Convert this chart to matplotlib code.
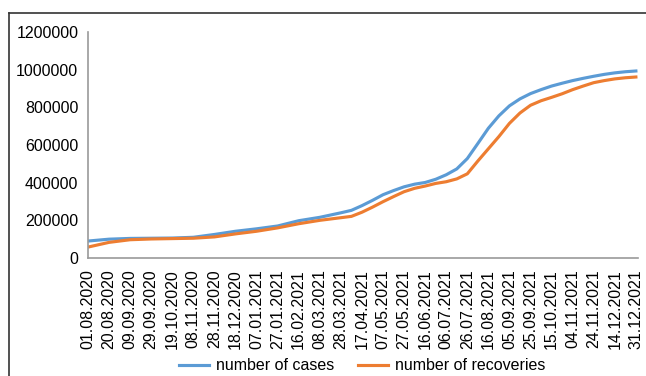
import numpy as np
import matplotlib.pyplot as plt
from matplotlib.lines import Line2D

# Datas mostradas no eixo x
datas = ["01.08.2020", "20.08.2020", "09.09.2020", "29.09.2020", "19.10.2020",
         "08.11.2020", "28.11.2020", "18.12.2020", "07.01.2021", "27.01.2021",
         "16.02.2021", "08.03.2021", "28.03.2021", "17.04.2021", "07.05.2021",
         "27.05.2021", "16.06.2021", "06.07.2021", "26.07.2021", "16.08.2021",
         "05.09.2021", "25.09.2021", "15.10.2021", "04.11.2021", "24.11.2021",
         "14.12.2021", "31.12.2021"]

# Posição de cada leitura (em unidades de rótulo: 0 = 01.08.2020, 26 = 31.12.2021)
posicoes = [0, 1, 2, 3, 4, 5, 6, 7, 8, 9, 10, 11, 12, 12.5, 13, 13.5, 14, 14.5,
            15, 15.5, 16, 16.5, 17, 17.5, 18, 18.5, 19, 19.5, 20, 20.5, 21, 21.5,
            22, 22.5, 23, 23.5, 24, 24.5, 25, 25.5, 26]

# Totais acumulados
casos = [90000, 100000, 104000, 105000, 106000, 110000, 125000, 142000, 155000,
         170000, 198000, 216000, 240000, 253000, 278000, 306000, 336000, 358000,
         378000, 392000, 401000, 418000, 442000, 473000, 528000, 608000, 689000,
         755000, 808000, 845000, 873000, 894000, 913000, 928000, 942000, 954000,
         965000, 975000, 983000, 989000, 993000]
recuperados = [58000, 83000, 97000, 101000, 103000, 105000, 112000, 128000, 142000,
               160000, 182000, 200000, 214000, 221000, 243000, 270000, 299000, 326000,
               352000, 370000, 382000, 396000, 405000, 420000, 447000, 515000, 580000,
               645000, 715000, 770000, 811000, 835000, 853000, 872000, 894000, 913000,
               931000, 942000, 951000, 957000, 961000]

plt.rcParams['font.family'] = ['Liberation Sans', 'DejaVu Sans']
TAM = 11.5

fig = plt.figure(figsize=(6.46, 3.76), dpi=100)
ax = fig.add_axes([88/646, 1 - 258/376, (638 - 88)/646, (258 - 32)/376])

ax.plot(posicoes, casos, color='#5B9BD5', lw=2.25, label='number of cases',
        solid_joinstyle='round')
ax.plot(posicoes, recuperados, color='#ED7D31', lw=2.25, label='number of recoveries',
        solid_joinstyle='round')

ax.set_xlim(0, len(datas) - 1 + 0.1)
ax.set_ylim(0, 1200000)
ax.set_yticks(np.arange(0, 1200001, 200000))
ax.set_yticklabels([str(v) for v in range(0, 1200001, 200000)], fontsize=TAM)
ax.set_xticks(np.arange(len(datas)))
ax.set_xticklabels(datas, rotation=90, fontsize=TAM)
ax.tick_params(length=0, pad=7, colors='#000000')
ax.tick_params(axis='x', pad=8)

for lado in ['top', 'right']:
    ax.spines[lado].set_visible(False)
for lado in ['left', 'bottom']:
    ax.spines[lado].set_color('#9A9A9A')
    ax.spines[lado].set_linewidth(1.2)

fig.legend(loc='center', bbox_to_anchor=(362/646, 1 - 366/376), ncol=2,
           frameon=False, fontsize=TAM, handlelength=1.9, handletextpad=0.4,
           columnspacing=1.5)

# Moldura do gráfico (só esquerda e topo aparecem)
fig.add_artist(Line2D([9/646, 9/646], [0, 1 - 13/376], color='#333333', lw=1.2))
fig.add_artist(Line2D([9/646, 1], [1 - 13/376, 1 - 13/376], color='#333333', lw=1.2))

fig.savefig('out.png', dpi=100)
